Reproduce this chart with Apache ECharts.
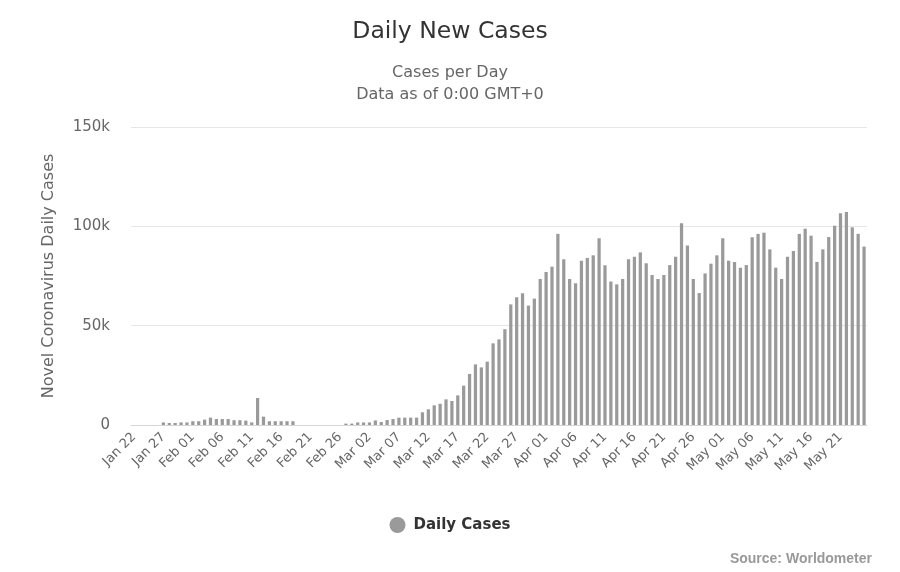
<!DOCTYPE html>
<html>
<head>
<meta charset="utf-8">
<script src="https://cdn.jsdelivr.net/npm/echarts@6/dist/echarts.min.js"></script>
<style>html,body{margin:0;padding:0;background:#fff}#c{width:900px;height:572px}</style>
</head>
<body>
<div id="c"></div>
<script>
const categories = [
"Jan 22","Jan 23","Jan 24","Jan 25","Jan 26","Jan 27","Jan 28","Jan 29","Jan 30","Jan 31",
"Feb 01","Feb 02","Feb 03","Feb 04","Feb 05","Feb 06","Feb 07","Feb 08","Feb 09","Feb 10",
"Feb 11","Feb 12","Feb 13","Feb 14","Feb 15","Feb 16","Feb 17","Feb 18","Feb 19","Feb 20",
"Feb 21","Feb 22","Feb 23","Feb 24","Feb 25","Feb 26","Feb 27","Feb 28","Feb 29",
"Mar 01","Mar 02","Mar 03","Mar 04","Mar 05","Mar 06","Mar 07","Mar 08","Mar 09","Mar 10",
"Mar 11","Mar 12","Mar 13","Mar 14","Mar 15","Mar 16","Mar 17","Mar 18","Mar 19","Mar 20",
"Mar 21","Mar 22","Mar 23","Mar 24","Mar 25","Mar 26","Mar 27","Mar 28","Mar 29","Mar 30","Mar 31",
"Apr 01","Apr 02","Apr 03","Apr 04","Apr 05","Apr 06","Apr 07","Apr 08","Apr 09","Apr 10",
"Apr 11","Apr 12","Apr 13","Apr 14","Apr 15","Apr 16","Apr 17","Apr 18","Apr 19","Apr 20",
"Apr 21","Apr 22","Apr 23","Apr 24","Apr 25","Apr 26","Apr 27","Apr 28","Apr 29","Apr 30",
"May 01","May 02","May 03","May 04","May 05","May 06","May 07","May 08","May 09","May 10",
"May 11","May 12","May 13","May 14","May 15","May 16","May 17","May 18","May 19","May 20",
"May 21","May 22","May 23","May 24","May 25"
];
const dailyCases = [
0,0,0,0,0,1300,1000,1000,1300,1300,
1900,1900,2700,3700,3000,3000,3000,2400,2400,2200,
1300,13600,4200,1900,1900,1900,1900,1900,0,0,
0,0,0,0,0,0,700,700,1300,
1300,1300,2300,1500,2500,3000,3700,3700,3700,3700,
6400,7900,9900,10700,12900,12100,14900,19800,25700,30500,
29000,31900,41100,43100,48200,60700,64300,66300,60100,63600,73500,
77000,79700,96200,83400,73500,71300,82700,84100,85400,94000,
80400,72200,70800,73500,83400,84700,86900,81400,75500,73500,
75500,80500,84700,101500,90400,73500,66400,76300,81200,85400,
94000,82700,82100,79200,80500,94500,96200,96800,88400,79200,
73500,84700,87600,96200,98800,95300,82100,88400,94600,100300,
106600,107200,99500,96200,89800
];
const yTicks = [0, 50000, 100000, 150000];

const chart = echarts.init(document.getElementById('c'));
const F = '"DejaVu Sans", sans-serif';
chart.setOption({
  backgroundColor: '#ffffff',
  animation: false,
  title: [
    {text: 'Daily New Cases', left: 'center', top: 15,
     textStyle: {fontFamily: F, fontSize: 23.5, fontWeight: 'normal', color: '#333333'}},
    {text: 'Cases per Day', left: 'center', top: 60,
     textStyle: {fontFamily: F, fontSize: 16, fontWeight: 'normal', color: '#666666'}},
    {text: 'Data as of 0:00 GMT+0', left: 'center', top: 82,
     textStyle: {fontFamily: F, fontSize: 16, fontWeight: 'normal', color: '#666666'}},
    {text: '{a|Source: }{b|Worldometer}', right: 23, top: 547,
     textStyle: {rich: {
       a: {fontFamily: '"Liberation Sans", Arial, sans-serif', fontSize: 14, color: '#999999'},
       b: {fontFamily: '"Liberation Sans", Arial, sans-serif', fontSize: 14, color: '#999999', fontWeight: 'bold'}
     }}}
  ],
  legend: {
    data: ['Daily Cases'], left: 'center', top: 512, icon: 'circle',
    itemWidth: 16, itemHeight: 16, itemGap: 10,
    textStyle: {fontFamily: F, fontSize: 15, fontWeight: 'bold', color: '#333333', padding: [0, 0, 0, 3]}
  },
  grid: {left: 131, right: 33, top: 127, bottom: 147, containLabel: false},
  xAxis: {
    type: 'category', data: categories,
    axisLine: {lineStyle: {color: '#ccd6eb'}},
    axisTick: {show: false},
    axisLabel: {interval: 4, rotate: 45, margin: 10, fontFamily: F, fontSize: 13, color: '#666666'}
  },
  yAxis: {
    type: 'value', min: yTicks[0], max: yTicks[yTicks.length - 1], interval: 50000,
    name: 'Novel Coronavirus Daily Cases', nameLocation: 'middle', nameGap: 74,
    nameTextStyle: {fontFamily: F, fontSize: 16, color: '#666666'},
    axisLine: {show: false}, axisTick: {show: false},
    splitLine: {lineStyle: {color: '#e6e6e6'}},
    axisLabel: {margin: 21, fontFamily: F, fontSize: 15, color: '#666666',
      formatter: v => v === 0 ? '0' : (v / 1000) + 'k'}
  },
  series: [{
    name: 'Daily Cases', type: 'bar', data: dailyCases,
    barWidth: '55%',
    itemStyle: {color: '#9a9a9a'}
  }]
});
</script>
</body>
</html>
